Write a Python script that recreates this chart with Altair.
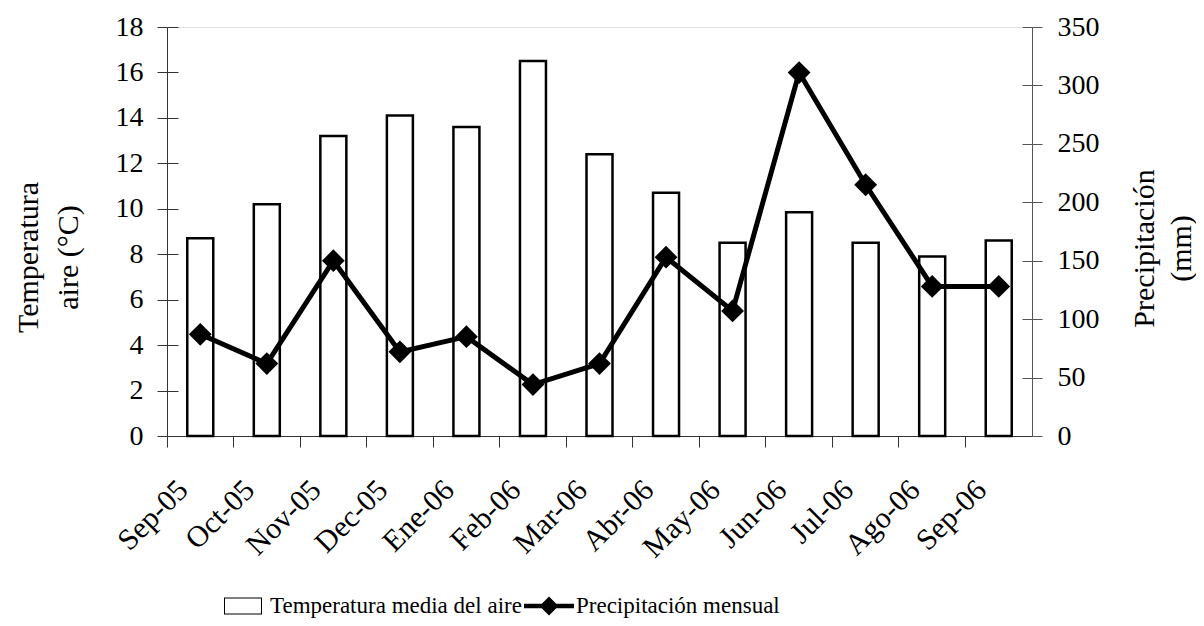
import altair as alt
import pandas as pd

months = ["Sep-05", "Oct-05", "Nov-05", "Dec-05", "Ene-06", "Feb-06", "Mar-06",
          "Abr-06", "May-06", "Jun-06", "Jul-06", "Ago-06", "Sep-06"]
temperatura = [8.7, 10.2, 13.2, 14.1, 13.6, 16.5, 12.4, 10.7, 8.5, 9.85, 8.5, 7.9, 8.6]
precipitacion = [87, 62, 150, 72, 85, 44, 62, 153, 107, 311, 215, 128, 128]
series = ["Temperatura media del aire", "Precipitación mensual"]

FONT = "Liberation Serif"
AX = "#333333"

df = pd.DataFrame({"mes": months, "temp": temperatura, "prec": precipitacion})
leg_df = pd.DataFrame({"serie": series})

xenc = alt.X("mes:N", sort=months, title=None,
             scale=alt.Scale(paddingInner=0, paddingOuter=0),
             axis=alt.Axis(bandPosition=0, labelAngle=-45, labelAlign="right",
                           labelBaseline="middle", labelOffset=-17, labelPadding=38,
                           tickSize=11, labelFontSize=30, labelFont=FONT,
                           labelColor="black", domainColor=AX, tickColor=AX))

bars = alt.Chart(df).mark_bar(size=26, fill="white", stroke="black", strokeWidth=2.5).encode(
    x=xenc,
    y=alt.Y("temp:Q", scale=alt.Scale(domain=[0, 18], nice=False),
            axis=alt.Axis(orient="left", values=list(range(0, 19, 2)), tickSize=10,
                          labelPadding=14, labelFontSize=28, labelFont=FONT, labelColor="black",
                          domainColor=AX, tickColor=AX,
                          grid=True, gridDash=[11, 3000], gridColor=AX, gridWidth=1,
                          title=["Temperatura", "aire (°C)"], titleFont=FONT,
                          titleFontSize=30, titleFontWeight="normal", titleColor="black",
                          titlePadding=32, titleLineHeight=40, titleY=230)),
)

line = alt.Chart(df).mark_line(color="black", strokeWidth=5).encode(
    x=alt.X("mes:N", sort=months),
    y=alt.Y("prec:Q", scale=alt.Scale(domain=[0, 350], nice=False),
            axis=alt.Axis(orient="right", values=list(range(0, 351, 50)), tickSize=10,
                          labelPadding=15, labelFontSize=28, labelFont=FONT, labelColor="black",
                          domainColor="#555555", tickColor="#555555",
                          grid=True, gridDash=[10, 3000], gridColor="#555555", gridWidth=1,
                          title=["Precipitación", "(mm)"], titleFont=FONT,
                          titleFontSize=30, titleFontWeight="normal", titleColor="black",
                          titleAngle=270, titleBaseline="top", titleAlign="center",
                          titleX=97, titleY=221, titleLineHeight=37)),
)

points = alt.Chart(df).mark_point(shape="diamond", filled=True, color="black",
                                  size=520, opacity=1).encode(
    x=alt.X("mes:N", sort=months),
    y=alt.Y("prec:Q", scale=alt.Scale(domain=[0, 350], nice=False)),
)

# legend symbols (filled paths): hollow rectangle frame, and line with diamond
rect_path = ("M-0.76,-0.34H0.76V0.34H-0.76Z "
             "M-0.72,-0.30V0.30H0.72V-0.30Z")
line_path = "M-1,-0.09H1V0.09H-1Z M0,-0.38L0.38,0L0,0.38L-0.38,0Z"

legend_layer = alt.Chart(leg_df).mark_point(filled=True, color="black", opacity=0).encode(
    shape=alt.Shape("serie:N", sort=series,
                    scale=alt.Scale(domain=series, range=[rect_path, line_path]),
                    legend=alt.Legend(title=None, orient="none", legendX=51, legendY=554,
                                      direction="horizontal", symbolSize=2500,
                                      symbolOpacity=1, symbolFillColor="black",
                                      symbolStrokeWidth=0,
                                      labelFont=FONT, labelFontSize=23, labelColor="black",
                                      labelOffset=2, columnPadding=2, labelLimit=400)),
)

prec_layer = alt.layer(line, points)

chart = alt.layer(bars, prec_layer, legend_layer).resolve_scale(
    y="independent", shape="independent"
).properties(
    width=865, height=409,
    autosize=alt.AutoSizeParams(type="none"),
    padding={"left": 159, "top": 19, "right": 164, "bottom": 182},
).configure_view(stroke=None).configure(background="white")

chart.save("out.html", embed_options={"renderer": "svg", "actions": False})
